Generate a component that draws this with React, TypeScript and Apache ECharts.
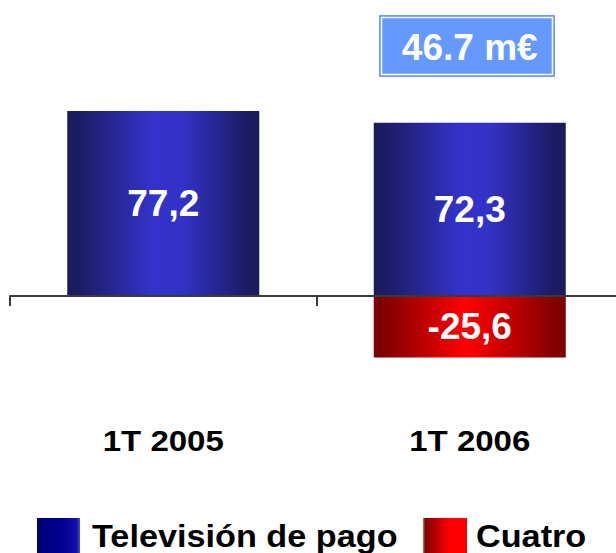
import React, { useEffect, useRef } from "react";
import * as echarts from "echarts";

const categories = ["1T 2005", "1T 2006"];
const seriesNames = ["Televisión de pago", "Cuatro"];
const pagoValues: (number | null)[] = [77.2, 72.3];
const cuatroValues: (number | null)[] = [null, -25.6];
const totalLabel = "46.7 m€";

const FONT = "'Liberation Sans', Arial, Helvetica, sans-serif";

const hGrad = (stops: [number, string][]) => ({
  type: "linear",
  x: 0,
  y: 0,
  x2: 1,
  y2: 0,
  colorStops: stops.map(([offset, color]) => ({ offset, color })),
});

const blueBar = hGrad([
  [0, "#1a1a5c"],
  [0.08, "#1d1d68"],
  [0.45, "#3333cc"],
  [0.6, "#3232c8"],
  [0.92, "#1d1d68"],
  [1, "#1a1a5c"],
]);
const redBar = hGrad([
  [0, "#7a0000"],
  [0.08, "#880000"],
  [0.48, "#ff0000"],
  [0.92, "#880000"],
  [1, "#7a0000"],
]);
const blueLegend = hGrad([
  [0, "#00007a"],
  [0.6, "#000090"],
  [0.92, "#1010b0"],
  [1, "#5050a8"],
]);
const redLegend = hGrad([
  [0, "#d08080"],
  [0.05, "#800000"],
  [0.6, "#ff0000"],
  [1, "#ff0000"],
]);

const fmt = (v: number) => String(v).replace(".", ",");

export default function App() {
  const ref = useRef<HTMLDivElement>(null);

  useEffect(() => {
    if (!ref.current) return;
    const chart = echarts.init(ref.current, undefined, { renderer: "svg" });
    const valueLabel = {
      show: true,
      position: "inside",
      color: "#ffffff",
      fontFamily: FONT,
      fontWeight: "bold",
      fontSize: 37,
      formatter: (p: any) => fmt(p.value),
    };
    chart.setOption({
      animation: false,
      backgroundColor: "#ffffff",
      grid: {
        left: 10,
        right: -7,
        top: 80.3,
        bottom: 161.1,
        containLabel: false,
        outerBoundsMode: "none",
      },
      xAxis: {
        type: "category",
        data: categories,
        boundaryGap: true,
        z: 5,
        axisLine: { show: true, lineStyle: { color: "#3a3a3a", width: 2 } },
        axisTick: { show: true, length: 10, lineStyle: { color: "#3a3a3a", width: 2 } },
        axisLabel: { show: false },
        splitLine: { show: false },
      },
      yAxis: {
        type: "value",
        min: -40,
        max: 90,
        show: false,
        splitLine: { show: false },
      },
      series: [
        {
          name: seriesNames[0],
          type: "bar",
          stack: "total",
          barWidth: 192,
          data: pagoValues,
          itemStyle: { color: blueBar },
          label: valueLabel,
        },
        {
          name: seriesNames[1],
          type: "bar",
          stack: "total",
          barWidth: 192,
          data: cuatroValues.map((v) => (v === null ? "-" : v)),
          itemStyle: { color: redBar },
          label: valueLabel,
        },
      ],
    });

    const zeroY = chart.convertToPixel({ yAxisIndex: 0 }, 0) as number;
    const catTexts = categories.map((c) => {
      const x = chart.convertToPixel({ xAxisIndex: 0 }, c) as number;
      return {
        type: "text",
        x,
        y: zeroY + 145,
        scaleX: 1.1,
        style: {
          text: c,
          align: "center",
          verticalAlign: "middle",
          fill: "#000000",
          font: `bold 30px ${FONT}`,
        },
      };
    });
    const x2 = chart.convertToPixel({ xAxisIndex: 0 }, categories[1]) as number;

    chart.setOption({
      graphic: [
        ...catTexts,
        {
          type: "rect",
          shape: { x: 379.5, y: 15.5, width: 175, height: 61 },
          style: { fill: "#6699ff", stroke: "#6f97f7", lineWidth: 1 },
        },
        {
          type: "rect",
          shape: { x: 381.5, y: 17.5, width: 171, height: 57 },
          style: { fill: "none", stroke: "#ffffff", lineWidth: 1.5 },
        },
        {
          type: "text",
          x: x2,
          y: 47,
          style: {
            text: totalLabel,
            align: "center",
            verticalAlign: "middle",
            fill: "#ffffff",
            font: `bold 37px ${FONT}`,
          },
        },
        {
          type: "rect",
          shape: { x: 37, y: 518, width: 43, height: 35 },
          style: { fill: blueLegend },
        },
        {
          type: "text",
          x: 92,
          y: 536,
          scaleX: 1.07,
          style: {
            text: seriesNames[0],
            align: "left",
            verticalAlign: "middle",
            fill: "#000000",
            font: `bold 32px ${FONT}`,
          },
        },
        {
          type: "rect",
          shape: { x: 423, y: 518, width: 44, height: 35 },
          style: { fill: redLegend },
        },
        {
          type: "text",
          x: 476,
          y: 536,
          scaleX: 1.07,
          style: {
            text: seriesNames[1],
            align: "left",
            verticalAlign: "middle",
            fill: "#000000",
            font: `bold 32px ${FONT}`,
          },
        },
      ],
    });

    return () => chart.dispose();
  }, []);

  return (
    <div
      ref={ref}
      style={{ position: "fixed", left: 0, top: 0, width: 616, height: 553 }}
    />
  );
}
